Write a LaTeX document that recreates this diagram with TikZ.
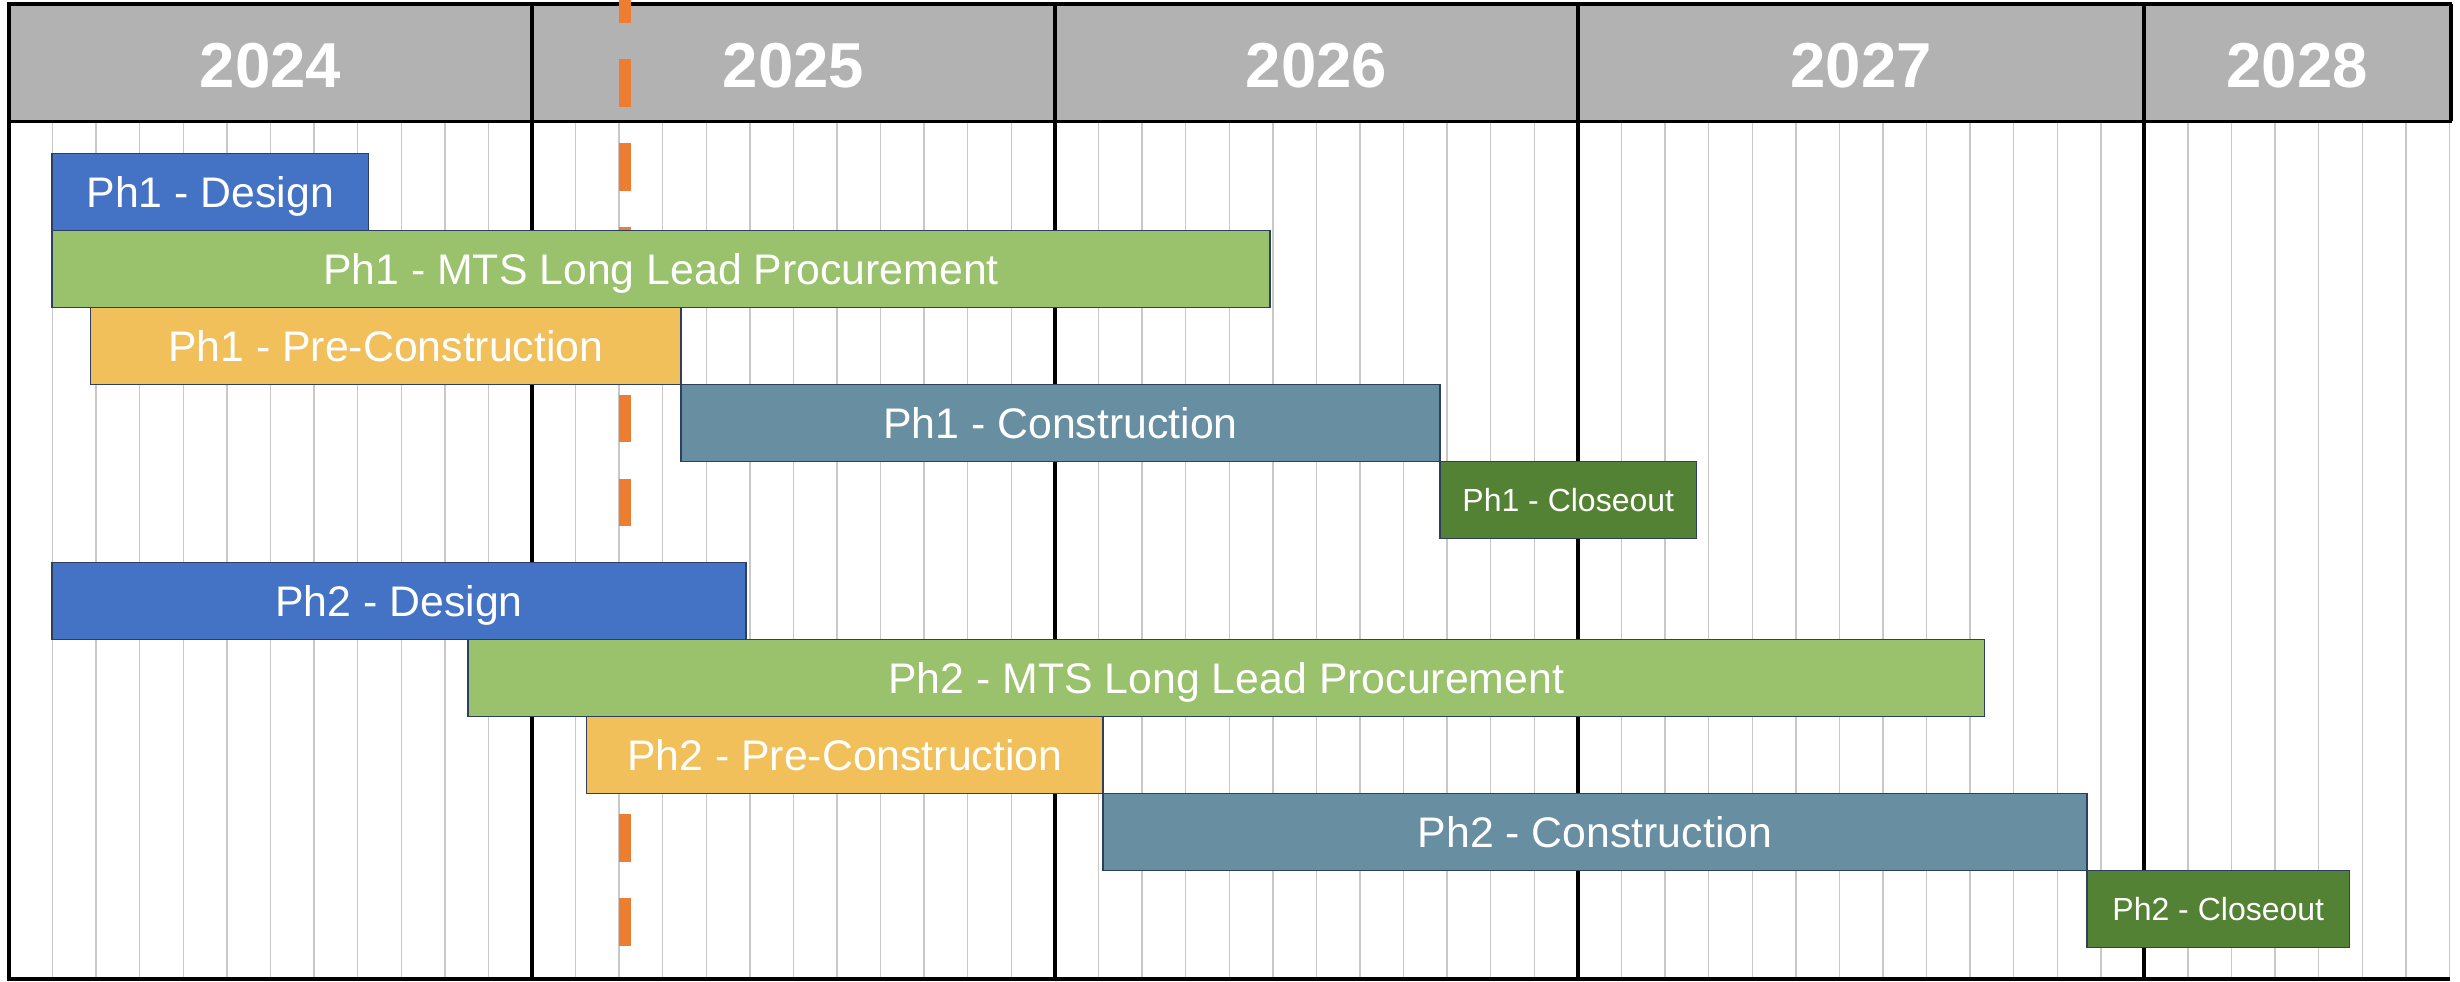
\documentclass[tikz,border=0pt]{standalone}
\usepackage{fontspec}
\setmainfont{Liberation Sans}

\definecolor{headgray}{HTML}{B2B2B2}
\definecolor{gridgray}{HTML}{C8C8C8}
\definecolor{barline}{HTML}{2E3E5E}
\definecolor{todayorange}{HTML}{ED7D31}
\definecolor{designblue}{HTML}{4472C4}
\definecolor{mtsgreen}{HTML}{9AC16B}
\definecolor{precongold}{HTML}{F1C05A}
\definecolor{constrslate}{HTML}{688EA1}
\definecolor{closegreen}{HTML}{548235}

% one month column = 43.58 px, chart starts at x = 9
\newcommand\colx[1]{9+43.58*#1}
% task bar: name, left x, right x, top y, style, text
\newcommand\taskbar[6]{%
  \node[task,#5,minimum width={(#3-#2)*0.5pt}] (#1) at ({(#2+#3)/2},{#4+38.5}) {#6};}

\tikzset{
  yearlabel/.style={font=\bfseries\fontsize{31.75}{36}\selectfont, text=white,
    inner sep=0pt, text height=22.7pt, text depth=0pt},
  task/.style={draw=barline, line width=0.65pt, inner sep=0pt, text=white,
    font=\fontsize{21.4}{25}\selectfont, text height=15.32pt, text depth=0pt,
    minimum height=38.5pt},
  design/.style={fill=designblue},
  mts/.style={fill=mtsgreen},
  precon/.style={fill=precongold},
  constr/.style={fill=constrslate},
  closeout/.style={fill=closegreen, font=\fontsize{16}{19}\selectfont, text height=11.46pt},
  gridline/.style={draw=gridgray, line width=0.7pt},
  rule/.style={draw=black, line width=2pt},
  todayline/.style={draw=todayorange, line width=6pt, dash pattern=on 23.8pt off 18.15pt},
}

\begin{document}
\begin{tikzpicture}[x=0.5pt,y=-0.5pt]
\useasboundingbox[fill=white] (0,0) rectangle (2460,981);

% header band
\fill[headgray] (9,4) rectangle (2451.5,121);

% month gridlines
\foreach \c in {1,...,56}
  \draw[gridline] ({\colx{\c}},121) -- ({\colx{\c}},977);

% year dividers
\foreach \c in {12,24,36,49}
  \draw[rule] ({\colx{\c}},4) -- ({\colx{\c}},979);

% frame
\draw[rule] (9,4) -- (2452,4);
\draw[rule] (9,2) -- (9,981);
\draw[rule] (7,979) -- (2450,979);
\draw[rule, line width=1.5pt] (9,121) -- (2452,121);
\draw[rule] (2451,4) -- (2451,121);

% year labels
\node[yearlabel] (y2024) at (270.5,64.5) {2024};
\node[yearlabel] (y2025) at (793.4,64.5) {2025};
\node[yearlabel] (y2026) at (1316.4,64.5) {2026};
\node[yearlabel] (y2027) at (1861.2,64.5) {2027};
\node[yearlabel] (y2028) at (2297,64.5) {2028};

% status date marker
\coordinate (today top) at (625,-24.8);
\coordinate (today bottom) at (625,990);
\begin{scope}
  \clip (0,0) rectangle (2460,981);
  \draw[todayline] (today top) -- (today bottom);
\end{scope}

% phase 1
\taskbar{p1design}{52}{368.5}{153.7}{design}{Ph1 - Design}
\taskbar{p1mts}{52}{1270}{230.7}{mts}{Ph1 - MTS Long Lead Procurement}
\taskbar{p1precon}{90.6}{681}{307.7}{precon}{Ph1 - Pre-Construction}
\taskbar{p1constr}{681}{1440}{384.7}{constr}{Ph1 - Construction}
\taskbar{p1close}{1440}{1696.5}{461.7}{closeout}{Ph1 - Closeout}

% phase 2
\taskbar{p2design}{52}{746}{562.5}{design}{Ph2 - Design}
\taskbar{p2mts}{468}{1984.5}{639.5}{mts}{Ph2 - MTS Long Lead Procurement}
\taskbar{p2precon}{586.5}{1103}{716.5}{precon}{Ph2 - Pre-Construction}
\taskbar{p2constr}{1103}{2087}{793.5}{constr}{Ph2 - Construction}
\taskbar{p2close}{2087}{2349.5}{870.5}{closeout}{Ph2 - Closeout}
\end{tikzpicture}
\end{document}
